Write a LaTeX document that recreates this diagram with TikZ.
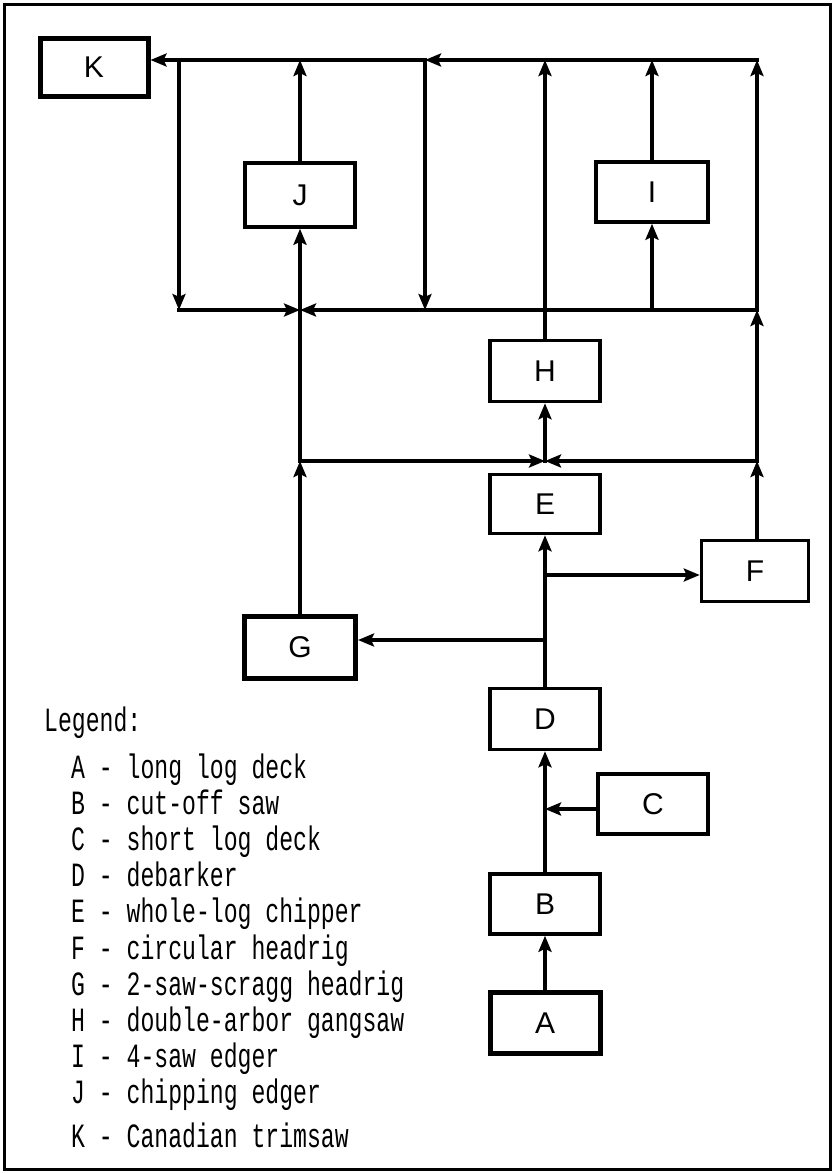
\documentclass[tikz,border=0pt]{standalone}
\usepackage{fontspec}
\setmainfont{Liberation Sans}
\newfontfamily\legfont[FakeStretch=0.68]{Liberation Mono}
\usetikzlibrary{arrows.meta}
\begin{document}
\begin{tikzpicture}[x=1pt,y=-1pt,line cap=rect,
  box/.style={draw,line width=3.5pt,minimum width=110pt,minimum height=61pt,inner sep=0pt,font=\fontsize{30}{30}\selectfont},
  thickbox/.style={box,line width=5pt},
  flow/.style={line width=3.5pt,-{Stealth[length=16pt,width=13pt,inset=3pt]}},
  heavy/.style={line width=4.5pt},
  legitem/.style={anchor=base west,inner sep=0pt,font=\legfont\fontsize{34}{34}\selectfont}]
\useasboundingbox (0,0) rectangle (834,1173);
\draw[line width=3pt] (4,4) rectangle (830,1169);
% boxes
\node[thickbox,minimum width=108pt,minimum height=58pt] (K) at (94,67) {K};
\node[box,minimum height=64pt] (J) at (300,195) {J};
\node[box,minimum width=112pt,minimum height=60pt] (I) at (652,192) {I};
\node[box] (H) at (545,371) {H};
\node[box,minimum height=59pt] (E) at (545,504) {E};
\node[box,minimum width=107pt] (F) at (755,571) {F};
\node[thickbox,minimum width=111pt,minimum height=62pt] (G) at (300,647) {G};
\node[box] (D) at (545,719) {D};
\node[box,minimum height=60pt] (C) at (653,804) {C};
\node[box,minimum height=60pt] (B) at (545,904) {B};
\node[thickbox] (A) at (545,1023) {A};
% junctions
\coordinate (tL) at (179,60);
\coordinate (tJ) at (300,60);
\coordinate (tM) at (425,60);
\coordinate (tH) at (545,60);
\coordinate (tI) at (652,60);
\coordinate (tR) at (757,60);
\coordinate (bL) at (179,310);
\coordinate (bJ) at (300,310);
\coordinate (bM) at (425,310);
\coordinate (bI) at (652,310);
\coordinate (bR) at (757,310);
\coordinate (mJ) at (300,461);
\coordinate (mH) at (545,461);
\coordinate (mR) at (757,461);
\coordinate (jG) at (545,640);
\coordinate (jF) at (545,575);
\coordinate (jC) at (545,809);
% main line
\draw[flow] (A) -- (B);
\draw[flow] (B) -- (D);
\draw[flow] (jC -| C.west) -- (jC);
\draw[flow] (D) -- (E);
\draw[flow] (jG) -- (jG -| G.east);
\draw[flow] (jF) -- (jF -| F.west);
\draw[flow] (G) -- (mJ);
\draw[flow] (mR |- F.north) -- (mR);
\draw[flow] (mJ) -- (mH);
\draw[flow] (mR) -- (mH);
\draw[flow] (mH) -- (H);
\draw[flow] (mJ) -- (J);
\draw[flow,heavy] (bL) -- (bJ);
\draw[flow,heavy] (bR) -- (bJ);
\draw[flow] (J) -- (tJ);
\draw[flow] (H) -- (tH);
\draw[flow] (bI) -- (I);
\draw[flow] (I) -- (tI);
\draw[flow] (mR) -- (bR);
\draw[flow] (bR) -- (tR);
\draw[flow,heavy] (tR) -- (tM);
\draw[flow,heavy] (tM) -- (K.east |- tM);
\draw[flow] (tL) -- (bL);
\draw[flow] (tM) -- (bM);
% legend
\node[legitem] (leg) at (44,731) {Legend:};
\node[legitem] (lA) at (71,778) {A - long log deck};
\node[legitem] (lB) at (71,814) {B - cut-off saw};
\node[legitem] (lC) at (71,850) {C - short log deck};
\node[legitem] (lD) at (71,886) {D - debarker};
\node[legitem] (lE) at (71,922) {E - whole-log chipper};
\node[legitem] (lF) at (71,959) {F - circular headrig};
\node[legitem] (lG) at (71,995) {G - 2-saw-scragg headrig};
\node[legitem] (lH) at (71,1031) {H - double-arbor gangsaw};
\node[legitem] (lI) at (71,1067) {I - 4-saw edger};
\node[legitem] (lJ) at (71,1103) {J - chipping edger};
\node[legitem] (lK) at (71,1147) {K - Canadian trimsaw};
\end{tikzpicture}
\end{document}
